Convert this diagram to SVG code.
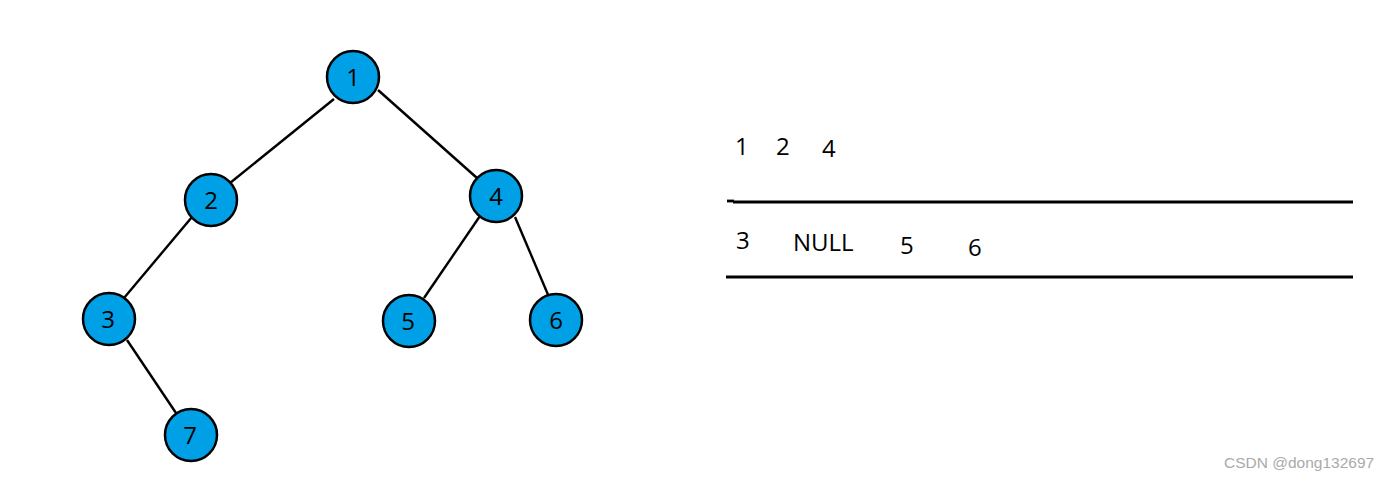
<svg xmlns="http://www.w3.org/2000/svg" width="1393" height="481" viewBox="0 0 1393 481">
<style>
.node circle{fill:#00A0E6;stroke:#000;stroke-width:2.5}
.node text{font-family:"Open Sans","Noto Sans",sans-serif;font-size:24px;fill:#000;text-anchor:middle}
.edge{stroke:#000;stroke-width:2.4;fill:none}
.t{font-family:"Open Sans","Noto Sans",sans-serif;font-size:24px;fill:#000}
.rule{stroke:#000;stroke-width:2.8}
</style>
<rect width="1393" height="481" fill="#fff"/>
<g id="connectors">
<line class="edge" x1="334" y1="99" x2="230" y2="183"/>
<line class="edge" x1="378" y1="90" x2="477" y2="178"/>
<line class="edge" x1="192" y1="217" x2="124" y2="298"/>
<line class="edge" x1="480" y1="216" x2="424" y2="298"/>
<line class="edge" x1="515" y1="217" x2="549" y2="297"/>
<line class="edge" x1="127" y1="340" x2="176" y2="413"/>
</g>
<g id="node1" class="node"><circle cx="353" cy="77" r="26"/><text x="353" y="86">1</text></g>
<g id="node2" class="node"><circle cx="211" cy="200" r="26"/><text x="211" y="209">2</text></g>
<g id="node4" class="node"><circle cx="496" cy="196" r="26"/><text x="496" y="205">4</text></g>
<g id="node3" class="node"><circle cx="109" cy="319" r="26"/><text x="108" y="328">3</text></g>
<g id="node5" class="node"><circle cx="409" cy="321" r="26"/><text x="408" y="330">5</text></g>
<g id="node6" class="node"><circle cx="556" cy="320" r="26"/><text x="556" y="329">6</text></g>
<g id="node7" class="node"><circle cx="191" cy="435" r="26"/><text x="190" y="444">7</text></g>
<g id="queue">
<text class="t" x="735" y="155">1</text>
<text class="t" x="776" y="155">2</text>
<text class="t" x="822" y="157">4</text>
<line class="rule" x1="727" y1="201" x2="734" y2="201" stroke-width="1.5"/>
<line class="rule" x1="733" y1="202" x2="1353" y2="202"/>
<text class="t" x="736" y="249">3</text>
<text class="t" x="793" y="251">NULL</text>
<text class="t" x="900" y="254">5</text>
<text class="t" x="968" y="256">6</text>
<line class="rule" x1="726" y1="277" x2="1353" y2="277"/>
</g>
<text x="1224" y="468" font-family="'Liberation Sans',sans-serif" font-size="15.5" fill="#aaa">CSDN @dong132697</text>
</svg>
